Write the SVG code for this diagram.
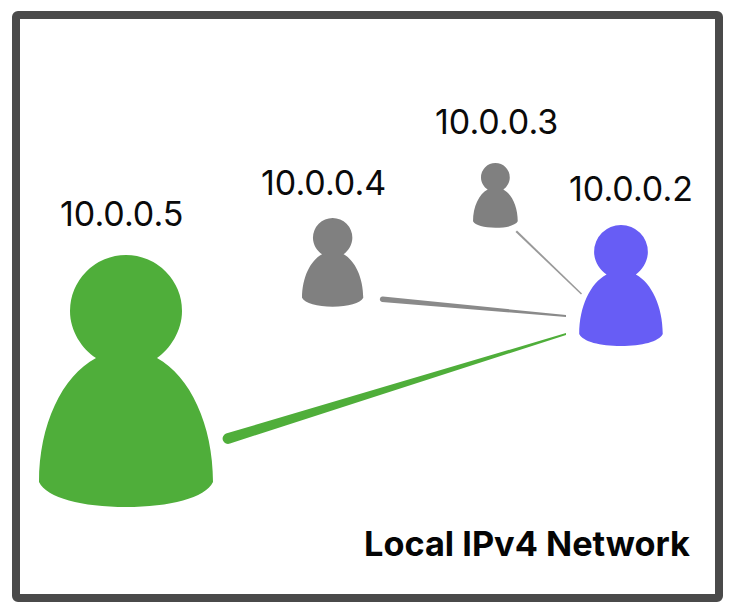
<svg xmlns="http://www.w3.org/2000/svg" width="742" height="613" viewBox="0 0 742 613">
<style>
.ip{font-family:"Inter","Liberation Sans",sans-serif;font-size:34px;fill:#0a0a0a}
.title{font-family:"Inter","Liberation Sans",sans-serif;font-size:34.300px;font-weight:700;fill:#050505}
.g{fill:#808080}.v{fill:#675df5}.gr{fill:#4fae3a}
</style>
<defs>
<path id="p" d="M96 358C82 349 70 331 70 311A56 56 0 0 1 182 311C182 331 170 349 157 358C190 376 213 425 213 482C205 498 170 507 126 507C82 507 47 498 39 482C39 425 62 376 96 358Z"/>
</defs>
<rect x="16" y="15" width="703" height="583" rx="2" fill="#fff" stroke="#4a4a4a" stroke-width="8"/>
<g id="connectors">
<path d="M226 433.500L566 333L566 335L230 443.500A5 5 0 0 1 226 433.500Z" fill="#4fae3a"/>
<path d="M383 296.500L566 315L566 317L382 302A2.800 2.800 0 0 1 383 296.500Z" fill="#8a8a8a"/>
<path d="M517 230.500L582 293.500L581 294.500L515.500 232Z" fill="#999"/>
</g>
<g id="node-5"><use href="#p" class="gr"/><text class="ip" x="60" y="226">10.0.0.5</text></g>
<g id="node-4"><use href="#p" class="g" transform="translate(288.300 128.200) scale(.352)"/><text class="ip" x="261" y="195">10.0.0.4</text></g>
<g id="node-3"><use href="#p" class="g" transform="translate(463 97.500) scale(.257)"/><text class="ip" x="435" y="134">10.0.0.3</text></g>
<g id="node-2"><use href="#p" class="v" transform="translate(560.500 102.600) scale(.48)"/><text class="ip" x="569" y="201">10.0.0.2</text></g>
<text id="network-label" class="title" x="364" y="556">Local IPv4 Network</text>
</svg>
